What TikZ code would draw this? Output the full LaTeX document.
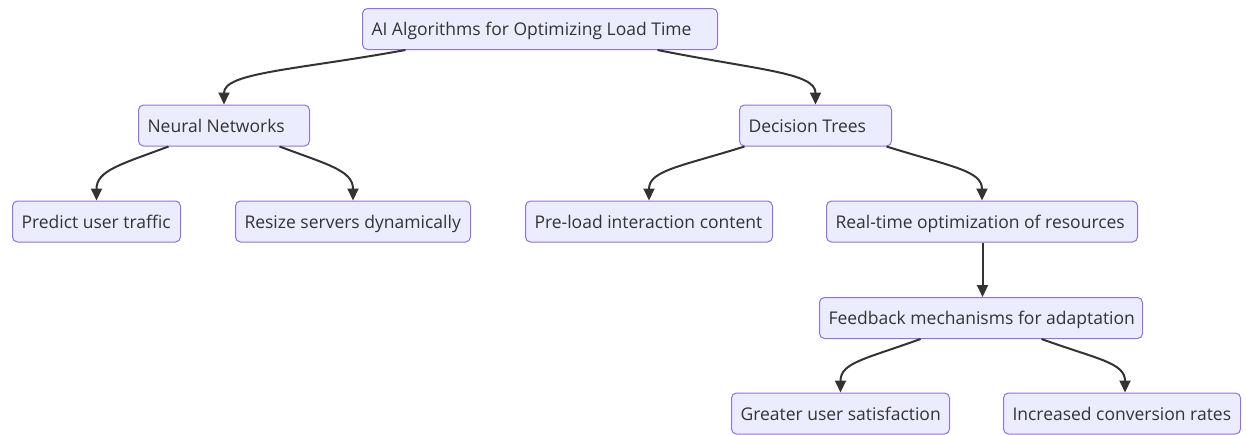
\documentclass[tikz,border=0pt]{standalone}
\usepackage{fontspec}
\setmainfont{Open Sans}
\usetikzlibrary{arrows.meta}
\definecolor{boxfill}{HTML}{ECECFF}
\definecolor{boxline}{HTML}{9370DB}
\definecolor{ink}{HTML}{333333}
\tikzset{
  box/.style={draw=boxline, fill=boxfill, line width=1pt, rounded corners=5pt,
    anchor=west, inner xsep=9pt, inner ysep=0pt,
    text height=15pt, text depth=1.4pt,
    minimum height=41pt, text=ink, font=\fontsize{17.5}{20}\selectfont},
  edge/.style={draw=ink, line width=2pt,
    -{Triangle[length=12pt,width=11pt]}}
}
% name, left x, center y, width, label (set left-aligned on one line)
\newcommand{\boxat}[5]{%
  \node[box] (#1) at (#2,#3) {\makebox[\dimexpr#4pt-18pt\relax][l]{#5}};}
\begin{document}
\begin{tikzpicture}[x=1pt,y=-1pt]
\useasboundingbox (0,0) rectangle (1246,434);

% nodes
\boxat{top}{362}{29}{355}{AI Algorithms for Optimizing Load Time}
\boxat{nn}{138}{125.5}{171}{Neural Networks}
\boxat{dt}{739}{125.5}{152}{Decision Trees}
\boxat{pu}{12}{221.5}{168}{Predict user traffic}
\boxat{rs}{235}{221.5}{235}{Resize servers dynamically}
\boxat{pl}{525}{221.5}{247}{Pre-load interaction content}
\boxat{rt}{826}{221.5}{311}{Real-time optimization of resources}
\boxat{fb}{819}{318}{323}{Feedback mechanisms for adaptation}
\boxat{gu}{731}{413.5}{218}{Greater user satisfaction}
\boxat{ic}{1003}{413.5}{237}{Increased conversion rates}

% connectors
\draw[edge] ([xshift=-134.5pt]top.south) .. controls +(-110,20) and +(0,-32) .. (nn.north);
\draw[edge] ([xshift=117.5pt]top.south) .. controls +(100,20) and +(0,-32) .. (dt.north);

\draw[edge] ([xshift=-55.5pt]nn.south) .. controls +(-48,18) and +(0,-30) .. (pu.north);
\draw[edge] ([xshift=55.5pt]nn.south) .. controls +(48,18) and +(0,-30) .. (rs.north);

\draw[edge] ([xshift=-71pt]dt.south) .. controls +(-64,20) and +(0,-30) .. (pl.north);
\draw[edge] ([xshift=71pt]dt.south) .. controls +(64,20) and +(0,-30) .. (rt.north);

\draw[edge] ([xshift=0.5pt]rt.south) -- ([xshift=1.5pt]fb.north);

\draw[edge] ([xshift=-60.5pt]fb.south) .. controls +(-55,20) and +(0,-30) .. (gu.north);
\draw[edge] ([xshift=60.5pt]fb.south) .. controls +(55,20) and +(0,-30) .. ([xshift=3pt]ic.north);
\end{tikzpicture}
\end{document}
